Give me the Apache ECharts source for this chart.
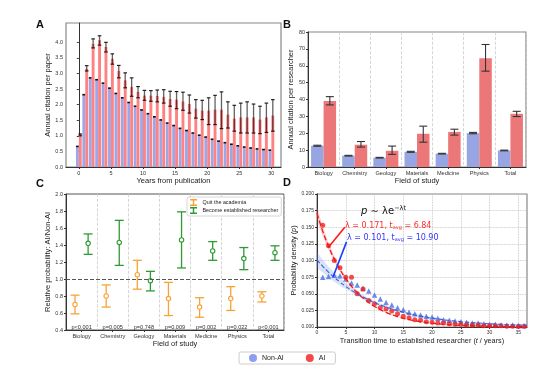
<!DOCTYPE html>
<html>
<head>
<meta charset="utf-8">
<script src="https://cdn.jsdelivr.net/npm/echarts@6/dist/echarts.min.js"></script>
<style>
html,body{margin:0;padding:0;background:#fff}
#chart{width:550px;height:375px}
</style>
</head>
<body>
<div id="chart"></div>
<script>
// ---- A: annual citation per paper
var years = [0,1,2,3,4,5,6,7,8,9,10,11,12,13,14,15,16,17,18,19,20,21,22,23,24,25,26,27,28,29,30];
var nonAiPaper = [0.66,2.32,2.86,2.80,2.69,2.53,2.36,2.22,2.07,1.95,1.83,1.71,1.61,1.51,1.41,1.33,1.24,1.17,1.09,1.02,0.96,0.89,0.83,0.78,0.73,0.68,0.64,0.61,0.58,0.56,0.54];
var aiPaper = [1.03,3.15,3.95,4.07,3.85,3.47,3.08,2.78,2.57,2.41,2.29,2.29,2.28,2.25,2.18,2.16,2.10,2.02,1.87,1.81,1.81,1.84,1.84,1.68,1.55,1.59,1.59,1.59,1.52,1.59,1.65];
var aiPaperLow = [1.00,3.08,3.82,3.91,3.69,3.30,2.86,2.54,2.27,2.22,2.14,2.11,2.09,2.05,1.95,1.87,1.82,1.73,1.57,1.52,1.36,1.36,1.23,1.25,1.15,1.09,1.09,1.09,1.07,1.11,1.15];
var aiPaperHigh = [1.06,3.25,4.11,4.21,4.00,3.63,3.26,3.02,2.86,2.58,2.46,2.45,2.47,2.48,2.43,2.42,2.40,2.31,2.16,2.14,2.22,2.30,2.41,2.09,1.98,2.05,2.09,2.02,1.95,2.05,2.16];
var paperTicksX = [0,5,10,15,20,25,30];
var paperTicksY = [0,0.5,1,1.5,2,2.5,3,3.5,4];

// ---- B: annual citation per researcher
var fields = ['Biology','Chemistry','Geology','Materials','Medicine','Physics','Total'];
var nonAiRes = [12.6,6.7,5.5,9.0,7.9,20.1,9.8];
var nonAiResErr = [0.3,0.2,0.2,0.3,0.2,0.4,0.2];
var aiRes = [39.1,13.2,9.6,19.7,20.8,64.5,31.5];
var aiResLow = [36.8,11.8,7.5,14.7,18.9,56.8,29.9];
var aiResHigh = [41.7,15.1,12.4,24.2,22.4,72.6,33.0];

// ---- C: relative probability AI / Non-AI
var quitMean = [0.70,0.80,1.05,0.77,0.67,0.77,0.80];
var quitLow = [0.59,0.67,0.88,0.57,0.55,0.63,0.73];
var quitHigh = [0.81,0.93,1.22,0.96,0.78,0.91,0.85];
var estMean = [1.42,1.43,0.98,1.46,1.33,1.24,1.31];
var estLow = [1.29,1.16,0.86,1.13,1.22,1.11,1.22];
var estHigh = [1.53,1.69,1.09,1.79,1.44,1.37,1.39];
var pValues = ['p<0.001','p=0.005','p=0.748','p=0.009','p=0.002','p=0.022','p<0.001'];

// ---- D: transition time to established researcher
var tYears = [1,2,3,4,5,6,7,8,9,10,11,12,13,14,15,16,17,18,19,20,21,22,23,24,25,26,27,28,29,30,31,32,33,34,35,36];
var aiDensity = [0.153,0.122,0.100,0.089,0.075,0.075,0.050,0.057,0.040,0.035,0.029,0.027,0.024,0.020,0.016,0.014,0.011,0.010,0.008,0.007,0.006,0.006,0.005,0.004,0.004,0.003,0.003,0.003,0.002,0.002,0.002,0.002,0.001,0.001,0.001,0.001];
var nonAiDensity = [0.075,0.076,0.078,0.077,0.072,0.066,0.063,0.058,0.054,0.048,0.042,0.037,0.033,0.029,0.026,0.022,0.020,0.018,0.016,0.015,0.013,0.011,0.010,0.009,0.008,0.007,0.006,0.006,0.005,0.004,0.004,0.003,0.003,0.003,0.002,0.002];
var fitT = [0,1,2,3,4,5,6,7,8,10,12,14,16,18,20,24,28,32,36.5];
var aiFit = [0.171,0.144,0.1215,0.1024,0.0863,0.0727,0.0613,0.0517,0.0435,0.0309,0.0220,0.0156,0.0111,0.0079,0.0056,0.0028,0.0014,0.0007,0.0003];
var aiFitLow = [0.162,0.137,0.116,0.098,0.083,0.070,0.059,0.050,0.042,0.030,0.021,0.0150,0.0106,0.0075,0.0053,0.0026,0.0013,0.0006,0.0002];
var aiFitHigh = [0.180,0.152,0.127,0.107,0.090,0.076,0.064,0.054,0.045,0.032,0.023,0.0163,0.0116,0.0083,0.0059,0.0030,0.0015,0.0008,0.0004];
var nonAiFit = [0.101,0.0913,0.0826,0.0746,0.0675,0.0610,0.0551,0.0499,0.0451,0.0368,0.0301,0.0245,0.0200,0.0164,0.0134,0.0089,0.0060,0.0040,0.0025];
var nonAiFitLow = [0.090,0.082,0.075,0.068,0.062,0.057,0.052,0.047,0.043,0.035,0.028,0.0228,0.0185,0.0150,0.0122,0.0080,0.0052,0.0034,0.0020];
var nonAiFitHigh = [0.112,0.101,0.091,0.082,0.074,0.066,0.059,0.053,0.048,0.039,0.032,0.0262,0.0215,0.0178,0.0146,0.0098,0.0068,0.0046,0.0030];
var densTicksX = [0,5,10,15,20,25,30,35];

var FONT = 'Liberation Sans';
var BLUE_A = '#99a8e8', RED_A = '#ff8282';
var BLUE_B = '#97a6e2', RED_B = '#eb7779';
var ORANGE = '#f7a236', GREEN = '#2e9a35';
var D_RED = '#ee2020', D_BLUE = '#4a6ee0';
var AXIS = '#333';

var chart = echarts.init(document.getElementById('chart'));

function baseAxis(grid, extra) {
  var a = {
    gridIndex: grid,
    axisLine: {show: true, lineStyle: {color: AXIS, width: 1}},
    axisTick: {show: true, length: 2, lineStyle: {color: AXIS}},
    axisLabel: {fontSize: 5.5, color: '#333', margin: 3, fontFamily: FONT},
    splitLine: {show: false},
    nameLocation: 'middle',
    nameTextStyle: {fontSize: 7.5, color: '#222', fontFamily: FONT}
  };
  for (var k in extra) a[k] = extra[k];
  return a;
}

// bars of panel A, drawn via the axis scale
function paperBar(side, color, lowArr, highArr) {
  return function (params, api) {
    var x = api.value(0), v = api.value(1);
    var w = api.size([1, 0])[0] * 0.45;
    var top = api.coord([x, v]), base = api.coord([x, 0]);
    var left = side < 0 ? top[0] - w : top[0];
    var cx = left + w / 2;
    var kids = [{type: 'rect', shape: {x: left, y: top[1], width: w, height: base[1] - top[1]}, style: {fill: color, lineWidth: 0}}];
    if (lowArr) {
      var lo = api.coord([x, lowArr[params.dataIndex]])[1];
      var hi = api.coord([x, highArr[params.dataIndex]])[1];
      kids.push({type: 'line', shape: {x1: cx, y1: lo, x2: cx, y2: hi}, style: {stroke: 'rgba(0,0,0,0.62)', lineWidth: 1.3}});
      kids.push({type: 'line', shape: {x1: cx - 1.8, y1: lo, x2: cx + 1.8, y2: lo}, style: {stroke: '#111', lineWidth: 1.1}});
      kids.push({type: 'line', shape: {x1: cx - 1.8, y1: hi, x2: cx + 1.8, y2: hi}, style: {stroke: '#111', lineWidth: 1.1}});
    } else {
      kids.push({type: 'line', shape: {x1: left, y1: top[1], x2: left + w, y2: top[1]}, style: {stroke: '#111', lineWidth: 1.6}});
    }
    return {type: 'group', children: kids};
  };
}

// error bars of panel B
function resErr(offset, lowF, highF) {
  return function (params, api) {
    var i = params.dataIndex;
    var c = api.coord([i, 0]);
    var x = c[0] + offset;
    var lo = api.coord([i, lowF(i)])[1], hi = api.coord([i, highF(i)])[1];
    var s = {stroke: '#333', lineWidth: 1.1};
    return {type: 'group', children: [
      {type: 'line', shape: {x1: x, y1: lo, x2: x, y2: hi}, style: s},
      {type: 'line', shape: {x1: x - 4, y1: lo, x2: x + 4, y2: lo}, style: s},
      {type: 'line', shape: {x1: x - 4, y1: hi, x2: x + 4, y2: hi}, style: s}
    ]};
  };
}

// error bars with hollow markers for panel C
function probErr(side, color, mean, low, high) {
  return function (params, api) {
    var i = params.dataIndex;
    var bw = api.size([1, 0])[0];
    var x = api.coord([i, 0])[0] + side * bw * 0.21;
    var m = api.coord([i, mean[i]])[1], lo = api.coord([i, low[i]])[1], hi = api.coord([i, high[i]])[1];
    var s = {stroke: color, lineWidth: 1.3};
    return {type: 'group', children: [
      {type: 'line', shape: {x1: x, y1: lo, x2: x, y2: hi}, style: s},
      {type: 'line', shape: {x1: x - 4.5, y1: lo, x2: x + 4.5, y2: lo}, style: s},
      {type: 'line', shape: {x1: x - 4.5, y1: hi, x2: x + 4.5, y2: hi}, style: s},
      {type: 'circle', shape: {cx: x, cy: m, r: 2.2}, style: {fill: '#fff', stroke: color, lineWidth: 1.1}}
    ]};
  };
}

// confidence band of panel D
function band(lowArr, highArr, fill) {
  return function (params, api) {
    var pts = [];
    for (var i = 0; i < fitT.length; i++) pts.push(api.coord([fitT[i], lowArr[i]]));
    for (var j = fitT.length - 1; j >= 0; j--) pts.push(api.coord([fitT[j], highArr[j]]));
    return {type: 'polygon', shape: {points: pts, smooth: 0.2}, style: {fill: fill}};
  };
}

function pairs(xs, ys) { return xs.map(function (x, i) { return [x, ys[i]]; }); }

var option = {
  animation: false,
  backgroundColor: '#fff',
  textStyle: {fontFamily: FONT},
  grid: [
    {left: 66, top: 23, width: 215, height: 144, show: true, borderColor: '#888', borderWidth: 1.2},
    {left: 308, top: 32, width: 218, height: 135, show: true, borderColor: '#888', borderWidth: 1.2},
    {left: 66, top: 194, width: 218, height: 136, show: true, borderColor: '#555', borderWidth: 1},
    {left: 317, top: 194, width: 210, height: 133, show: true, borderColor: '#888', borderWidth: 1.2}
  ],
  xAxis: [
    baseAxis(0, {type: 'value', min: -2, max: 31.5, name: 'Years from publication', nameGap: 10,
      axisTick: {show: true, length: 2, customValues: paperTicksX, lineStyle: {color: AXIS}},
      axisLabel: {fontSize: 5.5, color: '#333', margin: 3, customValues: paperTicksX}}),
    baseAxis(1, {type: 'category', data: fields, name: 'Field of study', nameGap: 10,
      axisTick: {show: true, length: 2, alignWithLabel: true, interval: 0, lineStyle: {color: AXIS}},
      axisLabel: {fontSize: 5.6, color: '#333', margin: 3, interval: 0},
      splitLine: {show: true, interval: 0, lineStyle: {color: '#ccc', type: 'dashed', width: 0.8}}}),
    baseAxis(2, {type: 'category', data: fields, name: 'Field of study', nameGap: 10,
      axisTick: {show: true, length: 2, alignWithLabel: true, interval: 0, lineStyle: {color: AXIS}},
      axisLabel: {fontSize: 5.6, color: '#333', margin: 3, interval: 0},
      splitLine: {show: true, interval: 0, lineStyle: {color: '#ccc', type: 'dashed', width: 0.8}}}),
    baseAxis(3, {type: 'value', min: 0, max: 36.5,
      name: 'Transition time to established researcher ({i|t} / years)', nameGap: 10,
      nameTextStyle: {fontSize: 7.3, color: '#222', rich: {i: {fontStyle: 'italic', fontSize: 7.3}}},
      axisTick: {show: true, length: 2, customValues: densTicksX, lineStyle: {color: AXIS}},
      axisLabel: {fontSize: 5, color: '#333', margin: 3, customValues: densTicksX},
      splitLine: {show: true, lineStyle: {color: '#bbb', type: 'dotted', width: 0.8}}})
  ],
  yAxis: [
    baseAxis(0, {type: 'value', min: 0, max: 4.62, name: 'Annual citation per paper', nameGap: 14,
      axisTick: {show: true, length: 2, customValues: paperTicksY, lineStyle: {color: AXIS}},
      axisLabel: {fontSize: 5.5, color: '#333', margin: 3, customValues: paperTicksY,
        formatter: function (v) { return v.toFixed(1); }}}),
    baseAxis(1, {type: 'value', min: 0, max: 80, interval: 10, name: 'Annual citation per researcher', nameGap: 12}),
    baseAxis(2, {type: 'value', min: 0.4, max: 2.0, interval: 0.2, name: 'Relative probability: AI/Non-AI', nameGap: 13,
      axisLabel: {fontSize: 5.5, color: '#333', margin: 3, formatter: function (v) { return v.toFixed(1); }}}),
    baseAxis(3, {type: 'value', min: 0, max: 0.2, interval: 0.025, name: 'Probability density ({i|p})', nameGap: 18,
      nameTextStyle: {fontSize: 7.3, color: '#222', rich: {i: {fontStyle: 'italic', fontSize: 7.3}}},
      axisLabel: {fontSize: 5, color: '#333', margin: 3, formatter: function (v) { return v.toFixed(3); }},
      splitLine: {show: true, lineStyle: {color: '#bbb', type: 'dotted', width: 0.8}}})
  ],
  legend: [
    {left: 239, top: 352, itemWidth: 8, itemHeight: 8, itemGap: 22, icon: 'circle',
      borderColor: '#ccc', borderWidth: 1, borderRadius: 2, padding: [2, 10],
      textStyle: {fontSize: 7, color: '#222'},
      data: [{name: 'Non-AI', itemStyle: {color: '#8d9ef0'}}, {name: 'AI', itemStyle: {color: '#f44848'}}]},
    {left: 187, top: 197, orient: 'vertical', itemWidth: 8, itemHeight: 7, itemGap: 1,
      icon: 'path://M0,0H10V2H6V8H10V10H0V8H4V2H0Z',
      backgroundColor: '#fff', borderColor: '#ccc', borderWidth: 0.8, borderRadius: 2, padding: [2, 3],
      textStyle: {fontSize: 5.4, color: '#222'},
      data: ['Quit the academia', 'Become established researcher']}
  ],
  series: [
    // A
    {name: 'Non-AI', type: 'custom', xAxisIndex: 0, yAxisIndex: 0, itemStyle: {color: BLUE_A},
      renderItem: paperBar(-1, BLUE_A, null, null), data: pairs(years, nonAiPaper)},
    {name: 'AI', type: 'custom', xAxisIndex: 0, yAxisIndex: 0, itemStyle: {color: RED_A},
      renderItem: paperBar(1, RED_A, aiPaperLow, aiPaperHigh), data: pairs(years, aiPaper)},
    // B
    {name: 'Non-AI', type: 'bar', xAxisIndex: 1, yAxisIndex: 1, barWidth: 12.5, barGap: '0%',
      itemStyle: {color: BLUE_B}, data: nonAiRes},
    {name: 'AI', type: 'bar', xAxisIndex: 1, yAxisIndex: 1, barWidth: 12.5, barGap: '0%',
      itemStyle: {color: RED_B}, data: aiRes},
    {type: 'custom', xAxisIndex: 1, yAxisIndex: 1, z: 5, data: nonAiRes.map(function (v, i) { return [i, v]; }),
      renderItem: resErr(-6.25, function (i) { return nonAiRes[i] - nonAiResErr[i]; }, function (i) { return nonAiRes[i] + nonAiResErr[i]; })},
    {type: 'custom', xAxisIndex: 1, yAxisIndex: 1, z: 5, data: aiRes.map(function (v, i) { return [i, v]; }),
      renderItem: resErr(6.25, function (i) { return aiResLow[i]; }, function (i) { return aiResHigh[i]; })},
    // C
    {name: 'Quit the academia', type: 'custom', xAxisIndex: 2, yAxisIndex: 2, itemStyle: {color: ORANGE},
      data: quitMean.map(function (v, i) { return [i, v]; }),
      renderItem: probErr(-1, ORANGE, quitMean, quitLow, quitHigh),
      markLine: {silent: true, symbol: ['none', 'none'], label: {show: false},
        lineStyle: {color: '#555', type: 'dashed', width: 1}, data: [{yAxis: 1.0}]}},
    {name: 'Become established researcher', type: 'custom', xAxisIndex: 2, yAxisIndex: 2, itemStyle: {color: GREEN},
      data: estMean.map(function (v, i) { return [i, v]; }),
      renderItem: probErr(1, GREEN, estMean, estLow, estHigh)},
    {type: 'custom', xAxisIndex: 2, yAxisIndex: 2, data: pValues.map(function (p, i) { return [i, 0.43]; }),
      renderItem: function (params, api) {
        var c = api.coord([params.dataIndex, 0.432]);
        return {type: 'text', x: c[0], y: c[1],
          style: {text: pValues[params.dataIndex], fontSize: 5.6, fill: '#333', fontFamily: FONT, align: 'center', verticalAlign: 'middle'}};
      }},
    // D
    {type: 'custom', xAxisIndex: 3, yAxisIndex: 3, data: [[0, 0]], renderItem: band(nonAiFitLow, nonAiFitHigh, 'rgba(100,140,230,0.25)')},
    {type: 'custom', xAxisIndex: 3, yAxisIndex: 3, data: [[0, 0]], renderItem: band(aiFitLow, aiFitHigh, 'rgba(255,70,70,0.25)')},
    {type: 'line', xAxisIndex: 3, yAxisIndex: 3, showSymbol: false, smooth: true, data: pairs(fitT, nonAiFit),
      lineStyle: {color: '#3a5fd8', type: 'dashed', width: 1.1}},
    {type: 'line', xAxisIndex: 3, yAxisIndex: 3, showSymbol: false, smooth: true, data: pairs(fitT, aiFit),
      lineStyle: {color: '#f01818', type: 'dashed', width: 1.3}},
    {name: 'Non-AI', type: 'scatter', xAxisIndex: 3, yAxisIndex: 3, symbol: 'triangle', symbolSize: 5.5,
      itemStyle: {color: D_BLUE}, data: pairs(tYears, nonAiDensity),
      markLine: {silent: true, symbol: ['none', 'arrow'], symbolSize: [0, 7], label: {show: false},
        lineStyle: {color: '#1a3cff', width: 1.6, type: 'solid'},
        data: [[{coord: [5.13, 0.128]}, {coord: [2.8, 0.0755]}]]}},
    {name: 'AI', type: 'scatter', xAxisIndex: 3, yAxisIndex: 3, symbol: 'circle', symbolSize: 5,
      itemStyle: {color: D_RED}, data: pairs(tYears, aiDensity),
      markLine: {silent: true, symbol: ['none', 'arrow'], symbolSize: [0, 7], label: {show: false},
        lineStyle: {color: '#ff1a1a', width: 1.6, type: 'solid'},
        data: [[{coord: [4.83, 0.150]}, {coord: [2.1, 0.121]}]]}}
  ],
  graphic: [
    {type: 'text', left: 36, top: 19, style: {text: 'A', font: 'bold 11px Liberation Sans', fill: '#111'}},
    {type: 'text', left: 283, top: 19, style: {text: 'B', font: 'bold 11px Liberation Sans', fill: '#111'}},
    {type: 'text', left: 36, top: 178, style: {text: 'C', font: 'bold 11px Liberation Sans', fill: '#111'}},
    {type: 'text', left: 283, top: 177, style: {text: 'D', font: 'bold 11px Liberation Sans', fill: '#111'}},
    {type: 'text', left: 361, top: 205, z: 10, style: {
      text: '{i|p} ∼ λe{s|−λt}', fill: '#111', fontFamily: 'DejaVu Sans', fontSize: 10,
      rich: {i: {fontStyle: 'italic', fontSize: 10, fontFamily: 'DejaVu Sans'},
             s: {fontSize: 6.5, verticalAlign: 'top', fontFamily: 'DejaVu Sans', padding: [0, 0, 6, 0]}}}},
    {type: 'text', left: 345, top: 222, z: 10, style: {
      text: 'λ = 0.171, t{s|avg} = 6.84', fill: '#ff2b2b', fontFamily: 'DejaVu Sans', fontSize: 8,
      rich: {s: {fontSize: 5, fill: '#ff2b2b', fontFamily: 'DejaVu Sans', padding: [4, 0, 0, 0]}}}},
    {type: 'text', left: 347, top: 234, z: 10, style: {
      text: 'λ = 0.101, t{s|avg} = 10.90', fill: '#3434ff', fontFamily: 'DejaVu Sans', fontSize: 8,
      rich: {s: {fontSize: 5, fill: '#3434ff', fontFamily: 'DejaVu Sans', padding: [4, 0, 0, 0]}}}}
  ]
};

chart.setOption(option);
</script>
</body>
</html>
